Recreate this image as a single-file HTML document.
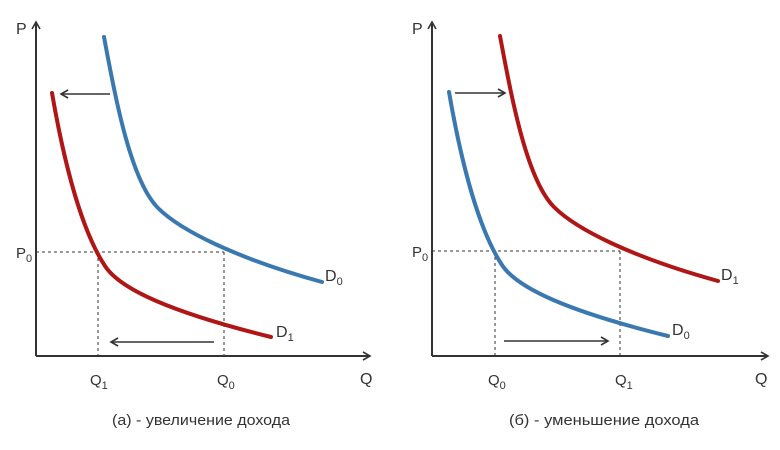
<!DOCTYPE html>
<html><head><meta charset="utf-8"><style>
html,body{margin:0;padding:0;background:#fff;}
svg{display:block;}
text{font-family:"Liberation Sans",sans-serif;fill:#333;}
</style></head><body>
<svg width="780" height="450" viewBox="0 0 780 450" xmlns="http://www.w3.org/2000/svg">
<defs>
<marker id="ah" markerWidth="10" markerHeight="10" refX="8" refY="5" orient="auto" markerUnits="userSpaceOnUse">
<path d="M1,1 L8,5 L1,9" fill="none" stroke="#333" stroke-width="1.6"/>
</marker>
<path id="cb" d="M104,37 C115,95 130,180 158,208 C180,230 235,258 322,282"/>
<path id="cr" d="M52,93 C61,145 78,225 105,266 C120,289 170,312 271,337"/>
</defs>
<!-- Left panel -->
<g stroke="#333" stroke-width="2" fill="none">
<path d="M36,356 V22" marker-end="url(#ah)"/>
<path d="M36,356 H370" marker-end="url(#ah)"/>
</g>
<g stroke="#333" stroke-width="1" stroke-dasharray="3,3" fill="none">
<path d="M36,252 H224"/><path d="M98,252 V356"/><path d="M224,252 V356"/>
</g>
<use href="#cb" stroke="#3a78b0" stroke-width="4" fill="none" stroke-linecap="round"/>
<use href="#cr" stroke="#b01616" stroke-width="4" fill="none" stroke-linecap="round"/>
<g stroke="#333" stroke-width="1.6" fill="none">
<path d="M110,94 H61" marker-end="url(#ah)"/>
<path d="M214,342 H111" marker-end="url(#ah)"/>
</g>
<text x="16" y="34" font-size="16">P</text>
<text x="16" y="258" font-size="15">P<tspan font-size="11" dy="4">0</tspan></text>
<text x="90" y="385" font-size="15">Q<tspan font-size="11" dy="4">1</tspan></text>
<text x="217" y="385" font-size="15">Q<tspan font-size="11" dy="4">0</tspan></text>
<text x="360" y="384" font-size="16">Q</text>
<text x="325" y="281" font-size="16">D<tspan font-size="11" dy="4">0</tspan></text>
<text x="276" y="337" font-size="16">D<tspan font-size="11" dy="4">1</tspan></text>
<text x="201" y="425" font-size="15" text-anchor="middle" textLength="178" lengthAdjust="spacingAndGlyphs">(а) - увеличение дохода</text>
<!-- Right panel -->
<g stroke="#333" stroke-width="2" fill="none">
<path d="M432,356 V22" marker-end="url(#ah)"/>
<path d="M432,356 H768" marker-end="url(#ah)"/>
</g>
<g stroke="#333" stroke-width="1" stroke-dasharray="3,3" fill="none">
<path d="M432,251 H620"/><path d="M495,251 V356"/><path d="M620,251 V356"/>
</g>
<use href="#cb" transform="translate(396,-1)" stroke="#b01616" stroke-width="4" fill="none" stroke-linecap="round"/>
<use href="#cr" transform="translate(397,-1)" stroke="#3a78b0" stroke-width="4" fill="none" stroke-linecap="round"/>
<g stroke="#333" stroke-width="1.6" fill="none">
<path d="M455,93 H505" marker-end="url(#ah)"/>
<path d="M504,341 H608" marker-end="url(#ah)"/>
</g>
<text x="412" y="34" font-size="16">P</text>
<text x="412" y="257" font-size="15">P<tspan font-size="11" dy="4">0</tspan></text>
<text x="488" y="385" font-size="15">Q<tspan font-size="11" dy="4">0</tspan></text>
<text x="615" y="385" font-size="15">Q<tspan font-size="11" dy="4">1</tspan></text>
<text x="755" y="384" font-size="16">Q</text>
<text x="721" y="280" font-size="16">D<tspan font-size="11" dy="4">1</tspan></text>
<text x="672" y="335" font-size="16">D<tspan font-size="11" dy="4">0</tspan></text>
<text x="604" y="425" font-size="15" text-anchor="middle" textLength="190" lengthAdjust="spacingAndGlyphs">(б) -  уменьшение дохода</text>
</svg>
</body></html>
